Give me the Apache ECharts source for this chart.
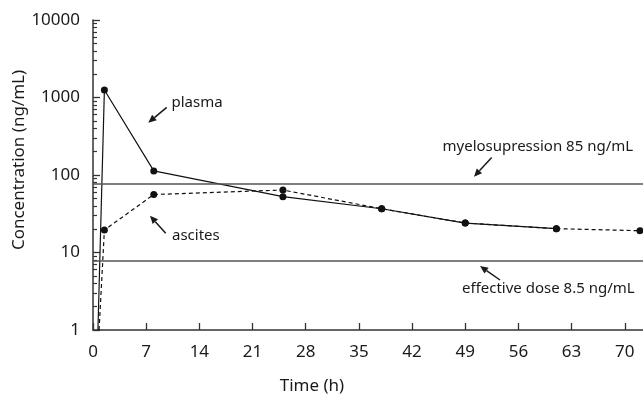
<!DOCTYPE html>
<html><head><meta charset="utf-8">
<script src="https://cdn.jsdelivr.net/npm/echarts@6/dist/echarts.min.js"></script>
<style>html,body{margin:0;padding:0;background:#fff}#c{width:643px;height:399px}</style>
</head><body><div id="c"></div>
<script>
// ---- data ----
const plasmaTime = [0.65, 1.5, 8, 25, 38, 49, 61];
const plasmaConc = [1, 1250, 113, 52.5, 36.7, 24, 20.3];
const ascitesTime = [0.8, 1.5, 8, 25, 38, 49, 61, 72];
const ascitesConc = [1, 19.5, 56, 64, 36.7, 24, 20.3, 19.1];
const thresholdLevels = [78, 7.9];   // drawn heights of the two reference lines
const xTicks = [0, 7, 14, 21, 28, 35, 42, 49, 56, 63, 70];
const yMinorTicks = [2,3,4,5,6,7,8,9,20,30,40,50,60,70,80,90,200,300,400,500,600,700,800,900,2000,3000,4000,5000,6000,7000,8000,9000];
const annotations = [
  {text: 'plasma', x: 171.5, y: 103},
  {text: 'ascites', x: 172, y: 236},
  {text: 'myelosupression 85 ng/mL', x: 442.5, y: 146.5},
  {text: 'effective dose 8.5 ng/mL', x: 462, y: 288.5}
];
const arrows = [
  [166.7, 107.3, 148.3, 122.7],
  [165.7, 233.3, 150, 215.7],
  [491.7, 157.5, 474, 176.7],
  [500, 280, 480, 266]
];

const FONT = '"Noto Sans", "DejaVu Sans", sans-serif';
const INK = '#1a1a1a';

function makeArrow(a) {
  const [x1, y1, x2, y2] = a;
  const ang = Math.atan2(y2 - y1, x2 - x1);
  const L = 8, W = 3.6;
  const bx = x2 - L * Math.cos(ang), by = y2 - L * Math.sin(ang);
  const px = -Math.sin(ang) * W, py = Math.cos(ang) * W;
  return [
    {type: 'line', shape: {x1: x1, y1: y1, x2: bx, y2: by}, style: {stroke: INK, lineWidth: 1.5}},
    {type: 'polygon', shape: {points: [[x2, y2], [bx + px, by + py], [bx - px, by - py]]}, style: {fill: INK}}
  ];
}

const graphic = [];
annotations.forEach(a => graphic.push({
  type: 'text', x: a.x, y: a.y,
  style: {text: a.text, font: '15px ' + FONT, fill: INK, textAlign: 'left', textVerticalAlign: 'middle'}
}));
arrows.forEach(a => makeArrow(a).forEach(g => graphic.push(g)));
graphic.push({type: 'text', x: 312, y: 386, style: {text: 'Time (h)', font: '17px ' + FONT, fill: INK, textAlign: 'center', textVerticalAlign: 'middle'}});
graphic.push({type: 'text', x: 19, y: 160, rotation: Math.PI / 2, style: {text: 'Concentration (ng/mL)', font: '17px ' + FONT, fill: INK, textAlign: 'center', textVerticalAlign: 'middle'}});

const chart = echarts.init(document.getElementById('c'));
chart.setOption({
  animation: false,
  backgroundColor: '#fff',
  grid: {left: 93, top: 20, right: 0, bottom: 69, containLabel: false, outerBoundsMode: 'none'},
  xAxis: {
    type: 'value', min: 0, max: 72.4,
    axisLine: {lineStyle: {color: '#333', width: 1.5}},
    axisTick: {inside: true, length: 7, customValues: xTicks, lineStyle: {color: '#333', width: 1.3}},
    axisLabel: {customValues: xTicks, margin: 14, fontSize: 17, fontFamily: FONT, color: INK},
    splitLine: {show: false}
  },
  yAxis: [{
    type: 'log', logBase: 10, min: 1, max: 10000,
    axisLine: {show: true, lineStyle: {color: '#333', width: 1.5}},
    axisTick: {show: true, inside: true, length: 7, lineStyle: {color: '#333', width: 1.3}},
    axisLabel: {margin: 13, fontSize: 17, fontFamily: FONT, color: INK, formatter: v => String(Math.round(v))},
    splitLine: {show: false}
  }, {
    type: 'log', logBase: 10, min: 1, max: 10000, position: 'left',
    axisLine: {show: false},
    axisTick: {show: true, inside: true, length: 4, customValues: yMinorTicks, lineStyle: {color: '#333', width: 1.2}},
    axisLabel: {show: false},
    splitLine: {show: false}
  }],
  series: [{
    name: 'plasma', type: 'line', yAxisIndex: 0,
    data: plasmaTime.map((t, i) => ({value: [t, plasmaConc[i]], symbol: i === 0 ? 'none' : 'circle'})),
    symbolSize: 7, itemStyle: {color: '#111'},
    lineStyle: {color: '#111', width: 1.2}, z: 4,
    markLine: {
      silent: true, symbol: 'none', label: {show: false},
      lineStyle: {color: '#555', width: 1.5, type: 'solid'},
      data: thresholdLevels.map(v => ({yAxis: v}))
    }
  }, {
    name: 'ascites', type: 'line', yAxisIndex: 0,
    data: ascitesTime.map((t, i) => ({value: [t, ascitesConc[i]], symbol: i === 0 ? 'none' : 'circle'})),
    symbolSize: 7, itemStyle: {color: '#111'},
    lineStyle: {color: '#111', width: 1.2, type: [4, 3]}, z: 3
  }],
  graphic: graphic
});
</script></body></html>
